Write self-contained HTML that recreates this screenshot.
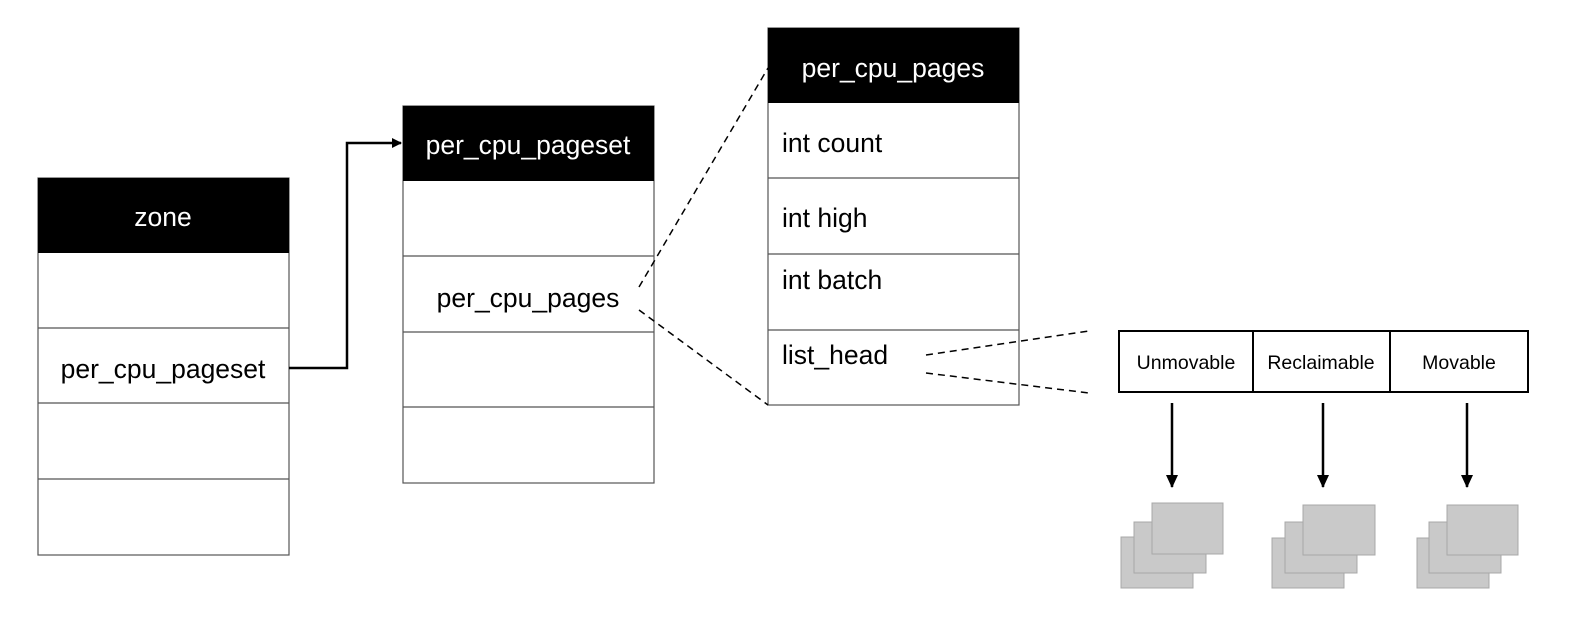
<!DOCTYPE html>
<html><head><meta charset="utf-8"><style>
body{margin:0;background:#fff;}
svg text{font-family:"Liberation Sans",sans-serif;}
</style></head><body>
<svg width="1586" height="638" viewBox="0 0 1586 638" xmlns="http://www.w3.org/2000/svg">
<defs><marker id="a" markerWidth="10" markerHeight="10" refX="9" refY="5" orient="auto" markerUnits="userSpaceOnUse"><path d="M0,0 L10,5 L0,10 z" fill="#000"/></marker>
<marker id="b" markerWidth="14" markerHeight="14" refX="12" refY="7" orient="auto" markerUnits="userSpaceOnUse"><path d="M0,1 L13,7 L0,13 z" fill="#000"/></marker></defs>
<g fill="#fff" stroke="#555" stroke-width="1.2">
<rect x="38" y="178" width="251" height="377"/>
<line x1="38" y1="328" x2="289" y2="328"/><line x1="38" y1="403" x2="289" y2="403"/><line x1="38" y1="479" x2="289" y2="479"/>
<rect x="403" y="106" width="251" height="377"/>
<line x1="403" y1="256" x2="654" y2="256"/><line x1="403" y1="332" x2="654" y2="332"/><line x1="403" y1="407" x2="654" y2="407"/>
<rect x="768" y="28" width="251" height="377"/>
<line x1="768" y1="178" x2="1019" y2="178"/><line x1="768" y1="254" x2="1019" y2="254"/><line x1="768" y1="330" x2="1019" y2="330"/>
</g>
<rect x="38" y="178" width="251" height="75" fill="#000"/>
<rect x="403" y="106" width="251" height="75" fill="#000"/>
<rect x="768" y="28" width="251" height="75" fill="#000"/>
<g font-size="26.5" text-anchor="middle">
<text x="163" y="226" fill="#fff">zone</text>
<text x="163" y="378" fill="#000">per_cpu_pageset</text>
<text x="528" y="154" fill="#fff">per_cpu_pageset</text>
<text x="528" y="307" fill="#000">per_cpu_pages</text>
<text x="893" y="77" fill="#fff">per_cpu_pages</text>
</g>
<g font-size="26.5" fill="#000">
<text x="782" y="152">int count</text>
<text x="782" y="227">int high</text>
<text x="782" y="289">int batch</text>
<text x="782" y="364">list_head</text>
</g>
<polyline points="289,368 347,368 347,143 401,143" fill="none" stroke="#000" stroke-width="2.5" marker-end="url(#a)"/>
<g stroke="#000" stroke-width="1.5" stroke-dasharray="7,5" fill="none">
<line x1="639" y1="287" x2="768" y2="68"/>
<line x1="639" y1="310" x2="768" y2="405"/>
<line x1="926" y1="355" x2="1089" y2="331"/>
<line x1="926" y1="373" x2="1089" y2="393"/>
</g>
<rect x="1119" y="331" width="409" height="61" fill="#fff" stroke="#000" stroke-width="2"/>
<line x1="1253" y1="331" x2="1253" y2="392" stroke="#000" stroke-width="2"/>
<line x1="1390" y1="331" x2="1390" y2="392" stroke="#000" stroke-width="2"/>
<g font-size="19.5" text-anchor="middle" fill="#000">
<text x="1186" y="369">Unmovable</text>
<text x="1321" y="369">Reclaimable</text>
<text x="1459" y="369">Movable</text>
</g>
<g stroke="#000" stroke-width="2.5">
<line x1="1172" y1="403" x2="1172" y2="487" marker-end="url(#b)"/>
<line x1="1323" y1="403" x2="1323" y2="487" marker-end="url(#b)"/>
<line x1="1467" y1="403" x2="1467" y2="487" marker-end="url(#b)"/>
</g>
<g fill="#c9c9c9" stroke="#a8a8a8" stroke-width="1">
<rect x="1121" y="537" width="72" height="51"/><rect x="1134" y="522" width="72" height="51"/><rect x="1152" y="503" width="71" height="51"/>
<rect x="1272" y="538" width="72" height="50"/><rect x="1285" y="522" width="72" height="51"/><rect x="1303" y="505" width="72" height="50"/>
<rect x="1417" y="538" width="72" height="50"/><rect x="1429" y="522" width="72" height="51"/><rect x="1447" y="505" width="71" height="50"/>
</g>
</svg>
</body></html>
